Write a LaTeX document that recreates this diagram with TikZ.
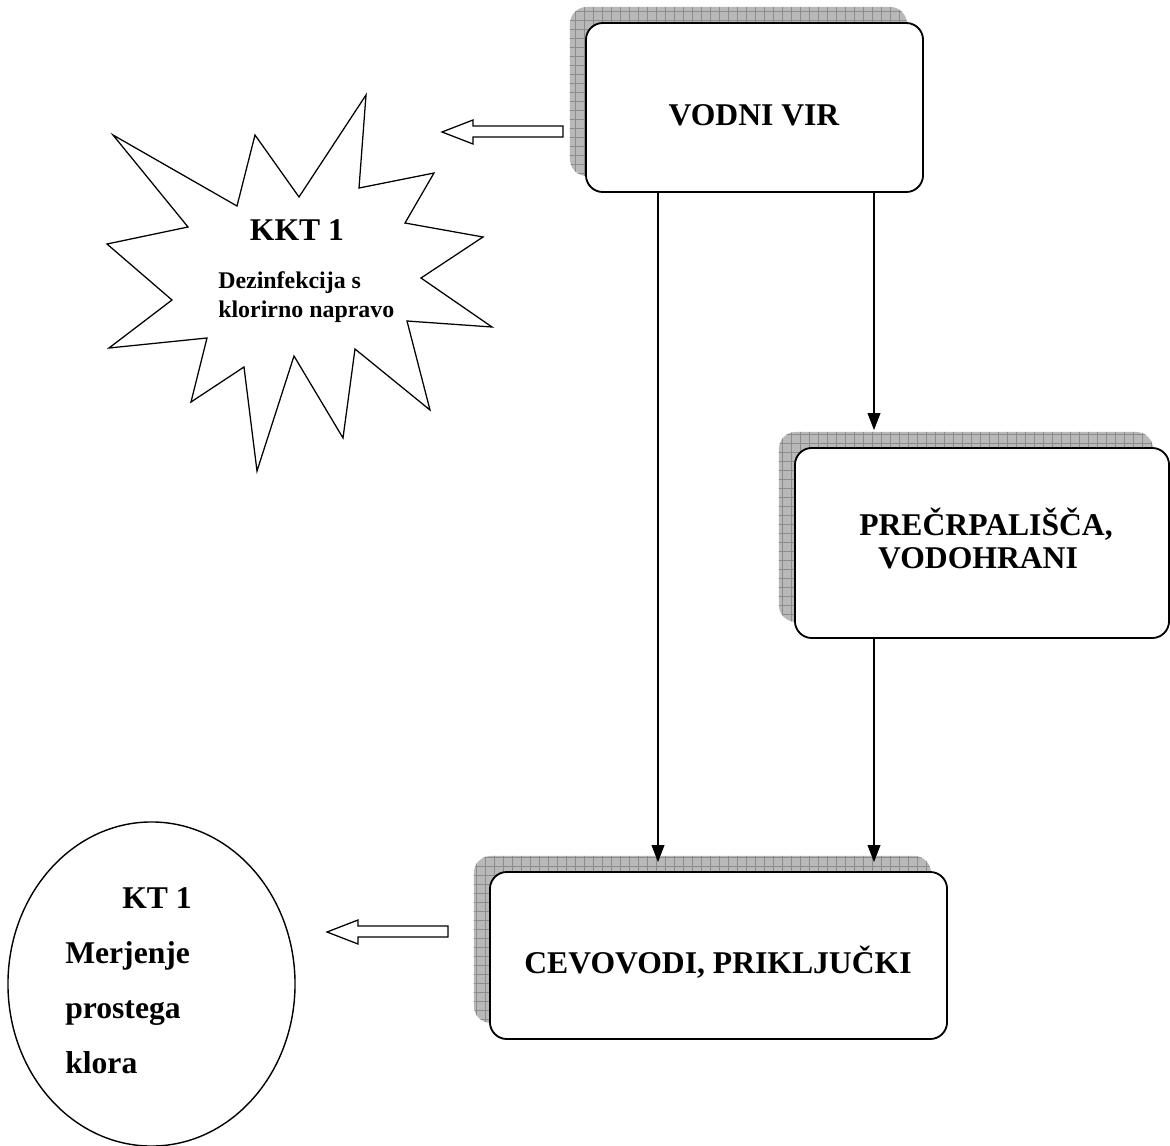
\documentclass[tikz,border=0pt]{standalone}
\usepackage{fontspec}
\setmainfont{Liberation Serif}
\usetikzlibrary{arrows.meta,shapes.geometric,shadows,patterns.meta,calc,positioning}

\newcommand{\hollowarrow}[1]{%
  \draw[blockarrow] (#1) -- ++(31,-12) -- ++(0,6) -- ++(90,0) -- ++(0,11) -- ++(-90,0) -- ++(0,7) -- cycle;}

\tikzset{
  stage/.style={draw, line width=1.3pt, rounded corners=12pt, fill=white, inner sep=0pt,
    general shadow={shadow xshift=-11.4pt, shadow yshift=11.4pt, fill=gray!55},
    general shadow={shadow xshift=-11.4pt, shadow yshift=11.4pt,
      pattern={Hatch[angle=0,distance=6.4pt,line width=0.6pt]}, pattern color=gray!90}},
  bigtxt/.style={font=\fontsize{22.5}{27}\selectfont\bfseries, anchor=base, inner sep=0pt},
  smalltxt/.style={font=\fontsize{17}{20}\selectfont\bfseries, anchor=base west, inner sep=0pt},
  flow/.style={->, line width=1pt},
  blockarrow/.style={draw, fill=white, line width=0.9pt, line join=miter},
  burst/.style={draw, line width=0.9pt, line join=miter}
}

\begin{document}
\begin{tikzpicture}[x=0.025cm, y=-0.025cm, >={Triangle[length=12pt,width=9pt]}]
		\useasboundingbox (0,0) rectangle (1170,1145);
		%coordinates
		\coordinate (lineL) at (658,0);
		\coordinate (lineR) at (874,0);
		\coordinate (tipA)  at (442,132);
		\coordinate (tipB)  at (327,932);
		
		%nodes
		\node[stage, minimum width=8.425cm, minimum height=4.225cm] (vir) at (754.5,107.5) {};
		\node[stage, minimum width=9.35cm, minimum height=4.75cm] (pre) at (982,543) {};
		\node[stage, minimum width=11.425cm, minimum height=4.175cm] (cev) at (718.5,955.5) {};
		\node[draw, ellipse, line width=1pt, minimum width=7.175cm, minimum height=8.1cm, inner sep=0pt] (kt) at (151.5,984) {};
		
		\node[bigtxt] (virtxt) at (754,125) {VODNI VIR};
		\node[bigtxt] (pretxtA) at (986,535) {PREČRPALIŠČA,};
		\node[bigtxt] (pretxtB) at (978,568) {VODOHRANI};
		\node[bigtxt] (cevtxt) at (718,973) {CEVOVODI, PRIKLJUČKI};
		
		%star
		\draw[burst] (366,95) -- (359,188) -- (434,173) -- (405,223) -- (483,237) -- (421,278)
			-- (492,327) -- (407,321) -- (430,410) -- (355,349) -- (343,438) -- (294,356)
			-- (257,471) -- (244,367) -- (191,402) -- (207,338) -- (109,348) -- (172,300)
			-- (107,244) -- (188,227) -- (113,135) -- (237,206) -- (255,135) -- (299,197) -- cycle;
		\node[bigtxt] (kkt) at (297,240) {KKT 1};
		\node[smalltxt] (kktA) at (218,288) {Dezinfekcija s};
		\node[smalltxt] (kktB) at (218,317) {klorirno napravo};
		
		\node[bigtxt, anchor=base west] (kttxt) at (122,908) {KT 1};
		\node[bigtxt, anchor=base west] (ktA) at (65,963) {Merjenje};
		\node[bigtxt, anchor=base west] (ktB) at (65,1018) {prostega};
		\node[bigtxt, anchor=base west] (ktC) at (65,1073) {klora};
		
		%connectors
		\draw[flow] (vir.south -| lineL) -- ($(cev.north -| lineL)+(0,-9)$);
		\draw[flow] (vir.south -| lineR) -- ($(pre.north -| lineR)+(0,-17)$);
		\draw[flow] (pre.south -| lineR) -- ($(cev.north -| lineR)+(0,-9)$);
		
		\hollowarrow{tipA}
		\hollowarrow{tipB}
\end{tikzpicture}
\end{document}
